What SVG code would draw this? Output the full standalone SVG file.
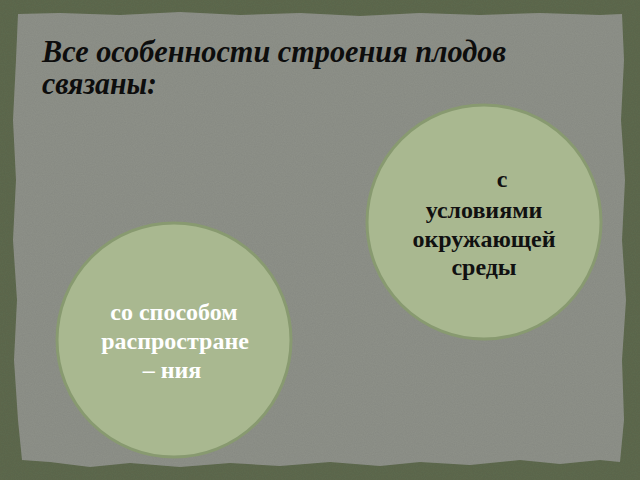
<svg xmlns="http://www.w3.org/2000/svg" width="640" height="480" viewBox="0 0 640 480">
  <defs>
    <style>
      .node circle { fill: #a9b890; stroke: #889a70; stroke-width: 3; }
      .t { font-family: "Liberation Serif", "DejaVu Serif", serif; font-weight: bold; font-size: 24px; text-anchor: middle; }
      .dark { fill: #111111; }
      .light { fill: #ffffff; }
      .title { font-family: "Liberation Serif", "DejaVu Serif", serif; font-style: italic; font-weight: bold; font-size: 31px; fill: #0d0d0d; }
    </style>
    <filter id="noise" x="0" y="0" width="100%" height="100%">
      <feTurbulence type="fractalNoise" baseFrequency="0.9" numOctaves="2" seed="3" result="n"/>
      <feColorMatrix type="matrix" values="0 0 0 0 0  0 0 0 0 0  0 0 0 0 0  0 0 0 0.12 0" in="n" result="d"/>
      <feComposite in="d" in2="SourceGraphic" operator="in" result="dm"/>
      <feMerge><feMergeNode in="SourceGraphic"/><feMergeNode in="dm"/></feMerge>
    </filter>
  </defs>
  <rect x="0" y="0" width="640" height="480" fill="#5e6a50" filter="url(#noise)"/>
  <path id="panel" filter="url(#noise)" fill="#8f928a" d="M18,14 L60,13 L120,15 L180,12 L240,15 L300,13 L360,16 L420,13 L480,15 L540,13 L600,15 L622,14 L624,60 L621,120 L625,180 L622,240 L626,300 L622,360 L624,420 L620,462 L600,460 L560,464 L520,460 L470,465 L420,462 L380,466 L330,462 L280,466 L230,463 L180,467 L130,463 L90,467 L50,462 L22,460 L18,420 L14,360 L17,300 L13,240 L16,180 L13,120 L16,60 Z"/>
  <g id="title">
    <text class="title" x="42" y="62" textLength="464" lengthAdjust="spacingAndGlyphs">Все особенности строения плодов</text>
    <text class="title" x="42" y="94" textLength="115" lengthAdjust="spacingAndGlyphs">связаны:</text>
  </g>
  <g id="connectors"/>
  <g id="node-environment" class="node">
    <circle cx="484" cy="222" r="117"/>
    <text class="t dark" x="502" y="187">с</text>
    <text class="t dark" x="484" y="218">условиями</text>
    <text class="t dark" x="484" y="247">окружающей</text>
    <text class="t dark" x="484" y="275">среды</text>
  </g>
  <g id="node-dispersal" class="node">
    <circle cx="174" cy="340" r="117"/>
    <text class="t light" x="174" y="320">со способом</text>
    <text class="t light" x="175" y="349">распростране</text>
    <text class="t light" x="172" y="378">– ния</text>
  </g>
</svg>
